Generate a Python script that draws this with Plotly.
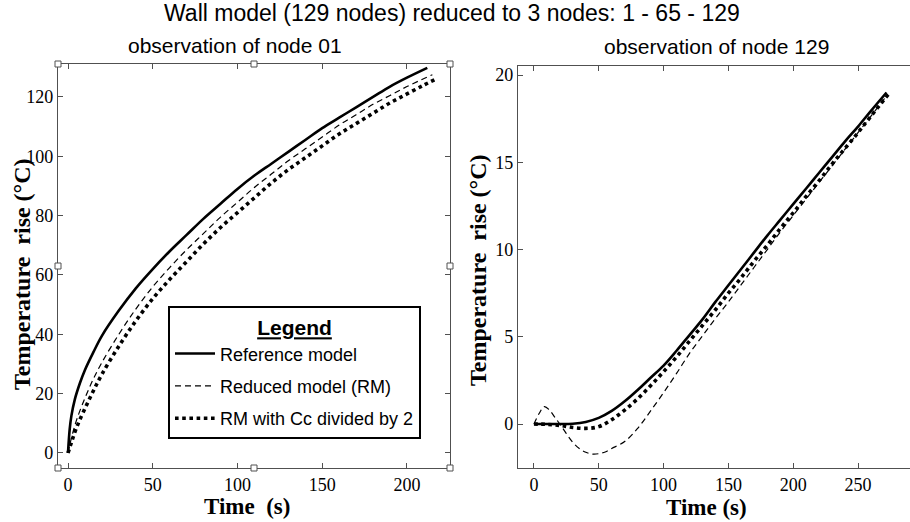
import plotly.graph_objects as go

# ---------------- data ----------------
# Left panel: observation of node 01
t_ref_1 = [0, 1, 2, 4, 7, 10, 15, 20, 30, 40, 50, 60, 70, 80, 90, 100, 110, 120,
           130, 140, 150, 160, 170, 180, 190, 200, 212]
v_ref_1 = [0, 8, 12.5, 18, 23.5, 28, 34, 39.5, 48, 55.5, 62, 68, 73.5, 79, 84, 89,
           93.5, 97.5, 101.5, 105.5, 109.5, 113, 116.5, 120, 123.5, 126.5, 129.8]

t_rm_1 = [0, 2, 5, 10, 15, 20, 30, 40, 50, 60, 70, 80, 90, 100, 110, 120, 130, 140,
          150, 160, 170, 180, 190, 200, 215]
v_rm_1 = [0, 5, 11, 18.5, 25, 30.5, 40, 48.5, 56, 62.5, 68.5, 74, 79.5, 84.5, 89.5,
          94, 98.5, 102.5, 106.5, 110.5, 114, 117.5, 120.5, 123.5, 127.5]

t_cc_1 = [0, 2, 5, 10, 15, 20, 30, 40, 50, 60, 70, 80, 90, 100, 110, 120, 130, 140,
          150, 160, 170, 180, 190, 200, 210, 217]
v_cc_1 = [0, 3.5, 8.5, 15, 21, 26.5, 36, 44.5, 52, 58.5, 64.5, 70.5, 76, 81, 86, 91,
          95.5, 99.5, 103.5, 107.5, 111, 114.5, 118, 121, 124, 126]

# Right panel: observation of node 129
t_ref_2 = [0, 10, 20, 30, 40, 50, 60, 70, 80, 90, 100, 110, 120, 130, 140, 150, 160,
           170, 180, 190, 200, 210, 220, 230, 240, 250, 260, 272]
v_ref_2 = [0, 0, 0, 0.02, 0.12, 0.35, 0.75, 1.3, 1.95, 2.65, 3.35, 4.2, 5.1, 6.0,
           7.0, 7.95, 8.9, 9.85, 10.8, 11.7, 12.6, 13.5, 14.4, 15.3, 16.2, 17.05,
           17.95, 19.0]

t_rm_2 = [0, 4, 8, 12, 16, 20, 25, 30, 35, 40, 45, 50, 55, 60, 70, 80, 90, 100, 110,
          120, 130, 140, 150, 160, 170, 180, 190, 200, 210, 220, 230, 240, 250, 260, 273]
v_rm_2 = [0, 0.6, 1.0, 0.8, 0.4, 0.0, -0.55, -1.05, -1.4, -1.62, -1.72, -1.7, -1.6,
          -1.4, -1.0, -0.25, 0.75, 1.8, 2.9, 4.05, 5.05, 6.05, 7.0, 8.0, 9.0, 10.0,
          11.0, 11.95, 12.9, 13.85, 14.8, 15.75, 16.7, 17.65, 18.9]

t_cc_2 = [0, 10, 20, 30, 40, 50, 60, 70, 80, 90, 100, 110, 120, 130, 140, 150, 160,
          170, 180, 190, 200, 210, 220, 230, 240, 250, 260, 274]
v_cc_2 = [0, -0.02, -0.08, -0.2, -0.25, -0.15, 0.25, 0.8, 1.45, 2.2, 3.0, 3.85, 4.75,
          5.65, 6.55, 7.5, 8.4, 9.35, 10.25, 11.2, 12.1, 13.05, 13.95, 14.9, 15.8,
          16.7, 17.65, 18.95]

series_names = ["Reference model", "Reduced model (RM)", "RM with Cc divided by 2"]

title_text = "Wall model (129 nodes) reduced to 3 nodes: 1 - 65 - 129"
sub_left = "observation of node 01"
sub_right = "observation of node 129"
ytitle = "Temperature  rise (°C)"
xtitle_left = "Time  (s)"
xtitle_right = "Time (s)"

x_ticks_left = [0, 50, 100, 150, 200]
y_ticks_left = [0, 20, 40, 60, 80, 100, 120]
x_ticks_right = [0, 50, 100, 150, 200, 250]
y_ticks_right = [0, 5, 10, 15, 20]

# ---------------- figure ----------------
W, H = 910, 522
SANS = "Liberation Sans, Arial, sans-serif"
SERIF = "Liberation Serif, Times New Roman, serif"
AX = "#505050"

styles = [dict(color="black", width=2.6, dash="solid"),
          dict(color="black", width=1.2, dash="6px,4px"),
          dict(color="black", width=3.6, dash="dot")]

fig = go.Figure()
left = [(t_ref_1, v_ref_1), (t_rm_1, v_rm_1), (t_cc_1, v_cc_1)]
right = [(t_ref_2, v_ref_2), (t_rm_2, v_rm_2), (t_cc_2, v_cc_2)]
for i, (t, v) in enumerate(left):
    fig.add_trace(go.Scatter(x=t, y=v, mode="lines", name=series_names[i],
                             line=styles[i], xaxis="x", yaxis="y",
                             legendgroup="g%d" % i, line_shape="spline"))
for i, (t, v) in enumerate(right):
    fig.add_trace(go.Scatter(x=t, y=v, mode="lines", name=series_names[i],
                             line=styles[i], xaxis="x2", yaxis="y2",
                             showlegend=False, line_shape="spline"))

def px(x):
    return x / W

def py(y):
    return 1 - y / H

axis_common = dict(showgrid=False, zeroline=False, showline=True, linecolor=AX,
                   linewidth=1.2, ticks="inside", ticklen=5, tickcolor=AX,
                   tickfont=dict(family=SERIF, size=18, color="black"),
                   automargin=False)

fig.update_layout(
    width=W, height=H,
    margin=dict(l=0, r=0, t=0, b=0),
    paper_bgcolor="white", plot_bgcolor="white",
    xaxis=dict(domain=[px(58), px(450)], range=[-5.9, 225.4], tickvals=x_ticks_left,
               mirror="ticks", anchor="y", **axis_common),
    yaxis=dict(domain=[py(468), py(64)], range=[-5.06, 131.1], tickvals=y_ticks_left,
               mirror="ticks", anchor="x", **axis_common),
    xaxis2=dict(domain=[px(518), 1.0], range=[-12.3, 290.1], tickvals=x_ticks_right,
                mirror="ticks", anchor="y2", **axis_common),
    yaxis2=dict(domain=[py(468), py(66)], range=[-2.52, 20.52], tickvals=y_ticks_right,
                mirror=False, anchor="x2", **axis_common),
    showlegend=True,
    legend=dict(x=px(168), y=py(306), xanchor="left", yanchor="top",
                bgcolor="white", bordercolor="black", borderwidth=2,
                font=dict(family=SANS, size=18, color="black"),
                title=dict(text="<b><u>Legend</u></b>", side="top center",
                           font=dict(family=SANS, size=21, color="black")),
                tracegroupgap=6, itemwidth=40),
)

ann = [
    dict(text=title_text, x=px(452), y=py(13), font=dict(family=SANS, size=23)),
    dict(text=sub_left, x=px(235), y=py(46), font=dict(family=SANS, size=21)),
    dict(text=sub_right, x=px(716), y=py(47), font=dict(family=SANS, size=21)),
    dict(text="<b>%s</b>" % xtitle_left, x=px(247), y=py(506),
         font=dict(family=SERIF, size=23)),
    dict(text="<b>%s</b>" % xtitle_right, x=px(706), y=py(507),
         font=dict(family=SERIF, size=23)),
    dict(text="<b>%s</b>" % ytitle, x=px(22), y=py(274), textangle=-90,
         font=dict(family=SERIF, size=24)),
    dict(text="<b>%s</b>" % ytitle, x=px(478), y=py(270), textangle=-90,
         font=dict(family=SERIF, size=24)),
]
for a in ann:
    fig.add_annotation(xref="paper", yref="paper", showarrow=False,
                       xanchor="center", yanchor="middle", **a)
for a in fig.layout.annotations:
    a.font.color = "black"

# selection handles on the left axes box
for hx, hy in [(0, 0), (0.5, 0), (1, 0), (0, 0.5), (1, 0.5), (0, 1), (0.5, 1), (1, 1)]:
    fig.add_shape(type="rect", xref="x domain", yref="y domain",
                  xsizemode="pixel", ysizemode="pixel", xanchor=hx, yanchor=hy,
                  x0=-3, x1=3, y0=-3, y1=3, fillcolor="white",
                  line=dict(color=AX, width=1), layer="above")

fig.write_html("out.html")
